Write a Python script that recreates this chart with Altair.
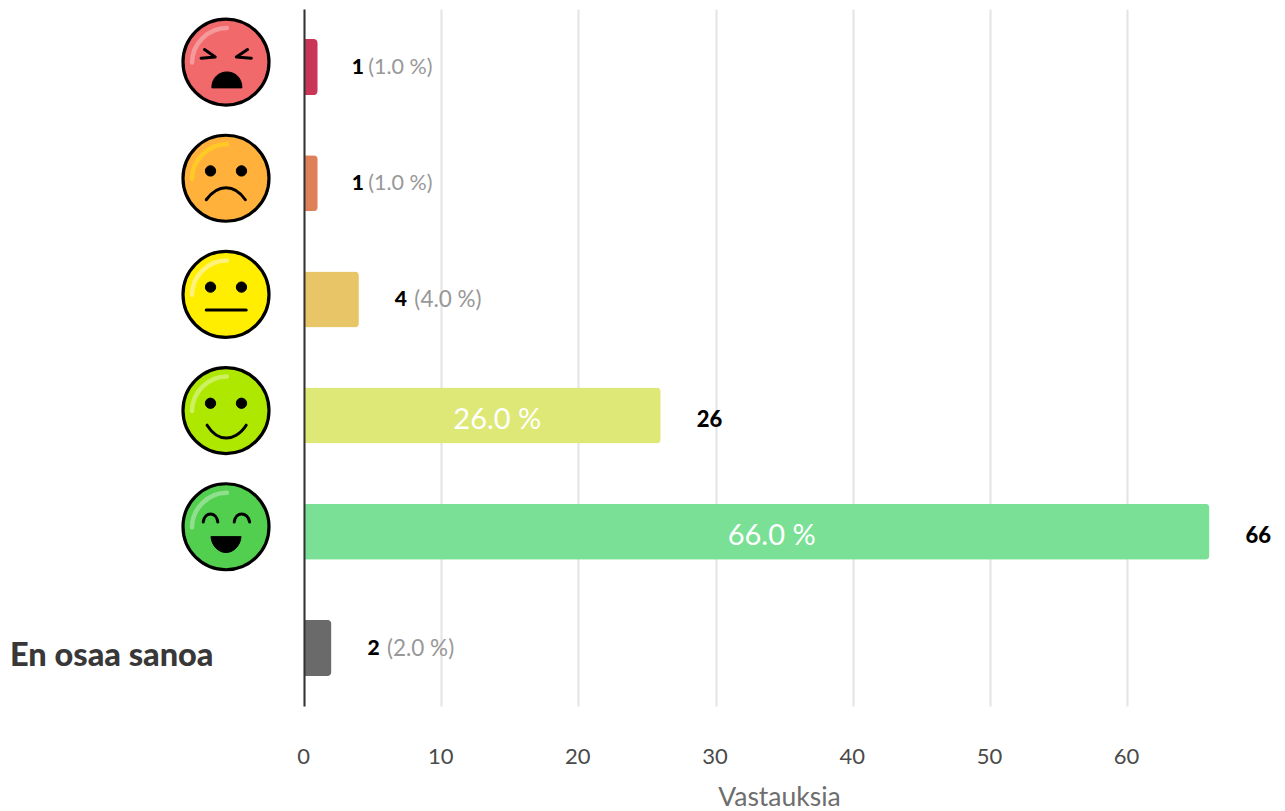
import altair as alt
import pandas as pd

FONT = "Lato"

categories = ["Vihainen", "Surullinen", "Neutraali", "Iloinen", "Erittäin iloinen", "En osaa sanoa"]
counts = [1, 1, 4, 26, 66, 2]
percents = [1.0, 1.0, 4.0, 26.0, 66.0, 2.0]
bar_colors = ["#c93658", "#de8058", "#e8c668", "#dee876", "#7ae095", "#6a6a6a"]
tick_values = [0, 10, 20, 30, 40, 50, 60]

face_rows = categories[:5]
face_colors = ["#f2696c", "#ffb13c", "#ffee00", "#aee800", "#52cf4f"]
shine_colors = ["#f59a9c", "#ffc926", "#fff27a", "#cdf060", "#8ee08c"]
shine_path = "M-0.79,0.01 C-0.79,-0.42 -0.42,-0.79 0.02,-0.79"

eyes = ("M-0.48,-0.17 A0.12,0.12 0 1 0 -0.24,-0.17 A0.12,0.12 0 1 0 -0.48,-0.17 Z "
        "M0.24,-0.17 A0.12,0.12 0 1 0 0.48,-0.17 A0.12,0.12 0 1 0 0.24,-0.17 Z")
solid_rows = ["Vihainen", "Surullinen", "Neutraali", "Iloinen", "Erittäin iloinen"]
solid_paths = [
    "M-0.33,0.6 C-0.33,0.35 -0.15,0.23 0.02,0.23 C0.2,0.23 0.37,0.35 0.37,0.6 Z",
    eyes,
    eyes,
    eyes,
    "M-0.35,0.23 L0.35,0.23 C0.33,0.45 0.17,0.6 0,0.6 C-0.17,0.6 -0.33,0.45 -0.35,0.23 Z",
]
line_rows = ["Vihainen", "Surullinen", "Neutraali", "Iloinen", "Erittäin iloinen"]
line_paths = [
    "M-0.5,-0.29 L-0.25,-0.12 L-0.58,-0.09 M0.5,-0.29 L0.24,-0.12 L0.59,-0.09",
    "M-0.46,0.5 C-0.3,0.28 -0.12,0.22 0,0.22 C0.12,0.22 0.3,0.28 0.45,0.5",
    "M-0.46,0.36 L0.47,0.36",
    "M-0.44,0.34 C-0.3,0.56 -0.12,0.64 0.01,0.64 C0.14,0.64 0.33,0.56 0.47,0.34",
    "M-0.53,-0.11 C-0.5,-0.36 -0.22,-0.36 -0.19,-0.11 M0.19,-0.11 C0.22,-0.36 0.5,-0.36 0.55,-0.11",
]

df = pd.DataFrame({"cat": categories, "n": counts, "pct": percents, "col": bar_colors})
df["mid"] = df["n"] / 2
df["pct_text"] = df["pct"].map(lambda v: f"{v:.1f} %")
df["pct_small"] = df["pct"].map(lambda v: f"({v:.1f} %)")

faces = pd.DataFrame({"cat": face_rows, "fill": face_colors, "shine": shine_colors})
faces["shape"] = shine_path
solids = pd.DataFrame({"cat": solid_rows, "shape": solid_paths})
lines = pd.DataFrame({"cat": line_rows, "shape": line_paths})

x_scale = alt.Scale(domain=[0, 69.25], nice=False)
y_scale = alt.Scale(domain=categories, paddingInner=0, paddingOuter=0)
x_axis = alt.Axis(
    values=tick_values, title="Vastauksia", domain=False, ticks=False, grid=True,
    gridColor="#e4e4e4", gridWidth=2, labelPadding=40, labelFont=FONT,
    labelFontSize=22, labelColor="#4a4a4a", labelFontWeight=400, labelOffset=-1,
    titleFont=FONT, titleFontSize=26.5, titleColor="#6e6e6e", titleFontWeight=400,
    titlePadding=17, labelFlush=False,
)
y_axis = alt.Axis(
    title=None, domain=True, domainColor="#333333", domainWidth=2, ticks=False, grid=False,
    labelFont=FONT, labelFontSize=32.5, labelFontWeight=900, labelColor="#383838",
    labelPadding=91, labelOffset=8, labelLimit=300, zindex=1,
    labelExpr="datum.label == 'En osaa sanoa' ? datum.label : ''",
)
X = alt.X("n:Q", scale=x_scale, axis=x_axis)
XM = alt.X("mid:Q", scale=x_scale, axis=x_axis)
Y = alt.Y("cat:N", scale=y_scale, axis=y_axis, sort=categories)

bars = alt.Chart(df).mark_bar(
    height=56, cornerRadiusTopRight=4, cornerRadiusBottomRight=4
).encode(x=X, y=Y, fill=alt.Fill("col:N", scale=None))

small = df[df["n"] < 10]
big = df[df["n"] >= 10]
one_digit = small[small["n"] == 1]
other_digit = small[small["n"] != 1]

count_one = alt.Chart(one_digit).mark_text(
    align="left", baseline="middle", dx=34, dy=1, font=FONT, fontSize=21, fontWeight=900, color="#000000"
).encode(x=X, y=Y, text="n:N")
count_other = alt.Chart(other_digit).mark_text(
    align="left", baseline="middle", dx=36, dy=1, font=FONT, fontSize=21, fontWeight=900, color="#000000"
).encode(x=X, y=Y, text="n:N")
count_big = alt.Chart(big).mark_text(
    align="left", baseline="middle", dx=36, dy=4, font=FONT, fontSize=22, fontWeight=900, color="#000000"
).encode(x=X, y=Y, text="n:N")
pct_narrow = alt.Chart(one_digit).mark_text(
    align="left", baseline="middle", dx=50.5, dy=1, font=FONT, fontSize=21.5, fontWeight=400, color="#989898"
).encode(x=X, y=Y, text="pct_small:N")
pct_wide = alt.Chart(other_digit).mark_text(
    align="left", baseline="middle", dx=55.5, dy=1, font=FONT, fontSize=22.5, fontWeight=400, color="#989898"
).encode(x=X, y=Y, text="pct_small:N")
pct_inside = alt.Chart(big).mark_text(
    align="center", baseline="middle", dx=15, dy=4, font=FONT, fontSize=29, fontWeight=400, color="#ffffff"
).encode(x=XM, y=Y, text="pct_text:N")

FACE_X = alt.value(-78)
SIZE = 7396
face_layer = alt.Chart(faces).mark_point(
    filled=True, size=SIZE, stroke="#000000", strokeWidth=3.2, opacity=1, shape="circle", yOffset=-5
).encode(x=FACE_X, y=Y, fill=alt.Fill("fill:N", scale=None))
shine_layer = alt.Chart(faces).mark_point(
    filled=False, size=SIZE, strokeWidth=4.5, opacity=1, strokeCap="round", yOffset=-5
).encode(
    x=FACE_X, y=Y,
    shape=alt.Shape("shape:N", scale=None),
    stroke=alt.Stroke("shine:N", scale=None),
)
solid_layer = alt.Chart(solids).mark_point(
    filled=True, size=SIZE, color="#000000", stroke="#000000", strokeWidth=1,
    strokeJoin="round", opacity=1, yOffset=-5
).encode(x=FACE_X, y=Y, shape=alt.Shape("shape:N", scale=None))
line_layer = alt.Chart(lines).mark_point(
    filled=False, size=SIZE, color="#000000", strokeWidth=3, strokeCap="round",
    strokeJoin="round", opacity=1, yOffset=-5
).encode(x=FACE_X, y=Y, shape=alt.Shape("shape:N", scale=None))

chart = alt.layer(
    bars, count_one, count_other, count_big, pct_narrow, pct_wide, pct_inside,
    face_layer, shine_layer, solid_layer, line_layer,
).properties(
    width=950, height=697,
    autosize=alt.AutoSizeParams(type="none"),
    padding={"left": 296, "top": 1, "right": 20, "bottom": 105},
).configure_view(stroke=None)

chart.save("out.html", embed_options={"renderer": "svg", "actions": False})
